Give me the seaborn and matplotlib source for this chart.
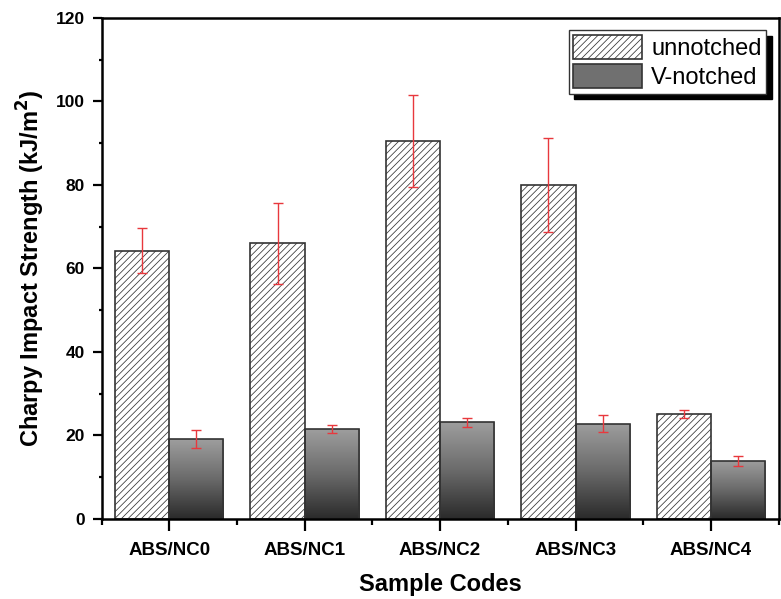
import matplotlib
matplotlib.use("Agg")
import matplotlib.pyplot as plt
import numpy as np
import pandas as pd
import seaborn as sns
from matplotlib.colors import LinearSegmentedColormap
from matplotlib.ticker import MultipleLocator

samples = ["ABS/NC0", "ABS/NC1", "ABS/NC2", "ABS/NC3", "ABS/NC4"]
unnotched = [64.2, 66.0, 90.6, 80.0, 25.1]
unnotched_err = [5.4, 9.7, 11.0, 11.2, 0.9]
notched = [19.1, 21.5, 23.1, 22.8, 13.9]
notched_err = [2.2, 1.0, 1.1, 2.0, 1.2]
series = ["unnotched", "V-notched"]

df = pd.DataFrame({
    "sample": samples * 2,
    "value": unnotched + notched,
    "err": unnotched_err + notched_err,
    "type": [series[0]] * len(samples) + [series[1]] * len(samples),
})

sns.set_style("ticks")
plt.rcParams["font.family"] = ["Liberation Sans", "DejaVu Sans"]
plt.rcParams["hatch.color"] = "#7a7a7a"
plt.rcParams["hatch.linewidth"] = 0.55
plt.rcParams["text.color"] = "black"
plt.rcParams["axes.labelcolor"] = "black"

fig = plt.figure(figsize=(7.81, 5.99), dpi=100)
ax = fig.add_axes([0.130, 0.134, 0.867, 0.836])

sns.barplot(data=df, x="sample", y="value", hue="type", order=samples,
            hue_order=series, palette=["white", "#707070"], errorbar=None,
            width=0.8, edgecolor="#333333", linewidth=1.2, ax=ax)

grad = LinearSegmentedColormap.from_list("g", ["#2a2a2a", "#6a6a6a", "#9e9e9e"])
ramp = np.linspace(0, 1, 256).reshape(-1, 1)

bars = ax.patches[:2 * len(samples)]
for i, p in enumerate(bars):
    if i < len(samples):
        p.set_hatch("/////")
        p.set_facecolor("white")
    else:
        x0, w, h = p.get_x(), p.get_width(), p.get_height()
        im = ax.imshow(ramp, cmap=grad, aspect="auto", origin="lower",
                       extent=[x0, x0 + w, 0, h], zorder=p.get_zorder() - 0.1,
                       interpolation="bilinear")
        im.set_clip_path(p)
        p.set_facecolor("none")

# error bars at bar centers
for p, (v, e) in zip(bars, zip(unnotched + notched, unnotched_err + notched_err)):
    cx = p.get_x() + p.get_width() / 2
    ax.errorbar(cx, v, yerr=e, color="#e8383d", lw=1.0, capsize=3.5,
                capthick=1.0, zorder=5)

ax.set_xlim(-0.5, 4.5)
ax.set_ylim(0, 120)
ax.yaxis.set_major_locator(MultipleLocator(20))
ax.yaxis.set_minor_locator(MultipleLocator(10))
ax.set_xticks(np.arange(-0.5, 5, 1.0), minor=True)

for s in ax.spines.values():
    s.set_visible(True)
    s.set_linewidth(1.8)
    s.set_color("black")

ax.tick_params(axis="y", which="major", direction="out", length=6.5, width=1.6,
               pad=5.5, labelsize=12.5, color="black", labelcolor="black")
ax.tick_params(axis="y", which="minor", direction="out", length=2.5, width=1.6,
               color="black")
ax.tick_params(axis="x", which="major", direction="out", length=8.5, width=1.6,
               pad=8, labelsize=13.5, color="black", labelcolor="black")
ax.tick_params(axis="x", which="minor", direction="out", length=4.5, width=1.6,
               color="black")
for lab in ax.get_xticklabels() + ax.get_yticklabels():
    lab.set_fontweight("bold")

ax.set_xlabel("Sample Codes", fontsize=17, fontweight="bold", labelpad=10)
ax.set_ylabel("Charpy Impact Strength (kJ/m$^\\mathbf{2}$)", fontsize=17,
              fontweight="bold", labelpad=6)

handles, labels = ax.get_legend_handles_labels()
handles[0].set_hatch("/////")
handles[0].set_facecolor("white")
leg = ax.legend(handles, labels, loc="upper right", bbox_to_anchor=(0.982, 0.975),
                fontsize=17, frameon=True, fancybox=False, edgecolor="#333333",
                handlelength=2.9, handleheight=1.2, handletextpad=0.4,
                borderpad=0.2, labelspacing=0.15, borderaxespad=0.0,
                shadow={"ox": 4, "oy": -4, "color": "black", "alpha": 1.0})
leg.get_frame().set_linewidth(1.0)

fig.savefig("out.png", dpi=100)
